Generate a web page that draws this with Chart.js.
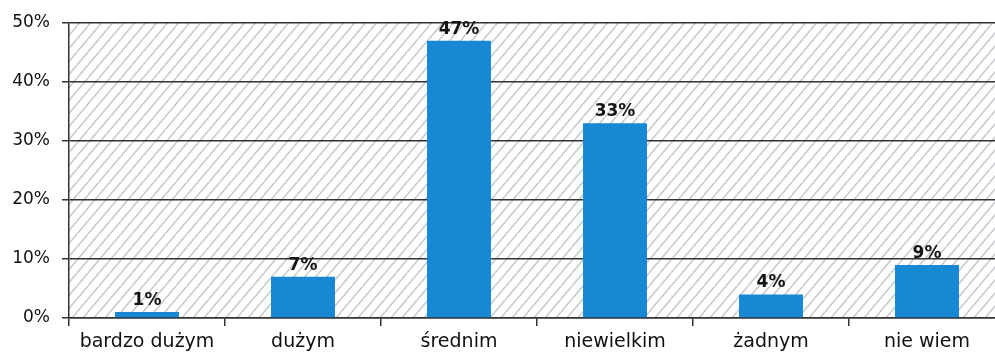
<!DOCTYPE html>
<html>
<head>
<meta charset="utf-8">
<script src="https://cdn.jsdelivr.net/npm/chart.js@4/dist/chart.umd.min.js"></script>
<style>
  html, body { margin: 0; padding: 0; background: #fff; overflow: hidden; }
  #wrap { width: 1005px; height: 360px; }
</style>
</head>
<body>
<div id="wrap"><canvas id="chart"></canvas></div>
<script>
// Data
const categories = ['bardzo dużym', 'dużym', 'średnim', 'niewielkim', 'żadnym', 'nie wiem'];
const values = [1, 7, 47, 33, 4, 9];
const yTicks = [0, 10, 20, 30, 40, 50];

const FONT = '"DejaVu Sans", Verdana, sans-serif';
const BAR_COLOR = '#1788d3';

// Diagonal hatch pattern for the plot background
function makeHatch() {
    const w = 11, h = 13;
    const c = document.createElement('canvas');
    c.width = w;
    c.height = h;
    const g = c.getContext('2d');
    g.strokeStyle = '#c6c9d0';
    g.lineWidth = 1.5;
    g.beginPath();
    g.moveTo(0, h); g.lineTo(w, 0);
    g.moveTo(-w, h); g.lineTo(0, 0);
    g.moveTo(w, h); g.lineTo(2 * w, 0);
    g.stroke();
    return g.createPattern(c, 'repeat');
}

const hatchBg = {
    id: 'hatchBg',
    beforeDraw(chart) {
        const { ctx, chartArea: a } = chart;
        ctx.save();
        ctx.fillStyle = makeHatch();
        ctx.fillRect(a.left, a.top, a.right - a.left, a.bottom - a.top);
        ctx.restore();
    }
};

// Value labels above the bars
const valueLabels = {
    id: 'valueLabels',
    afterDatasetsDraw(chart) {
        const { ctx } = chart;
        const meta = chart.getDatasetMeta(0);
        ctx.save();
        ctx.font = 'bold 17px ' + FONT;
        ctx.fillStyle = '#151515';
        ctx.textAlign = 'center';
        ctx.textBaseline = 'bottom';
        meta.data.forEach((bar, i) => {
            ctx.fillText(values[i] + '%', bar.x, bar.y - 3);
        });
        ctx.restore();
    }
};

new Chart(document.getElementById('chart'), {
    type: 'bar',
    data: {
        labels: categories,
        datasets: [{
            data: values,
            backgroundColor: BAR_COLOR,
            barPercentage: 0.41,
            categoryPercentage: 1
        }]
    },
    options: {
        responsive: true,
        maintainAspectRatio: false,
        animation: false,
        layout: { padding: { top: 23, right: 0, left: 0, bottom: 0 } },
        plugins: {
            legend: { display: false },
            tooltip: { enabled: false }
        },
        scales: {
            x: {
                afterFit(scale) { scale.height = 42; },
                grid: {
                    drawOnChartArea: false,
                    drawTicks: true,
                    tickLength: 8,
                    color: '#333',
                    lineWidth: 1.5
                },
                border: { display: true, color: '#333', width: 1.5 },
                ticks: {
                    font: { family: FONT, size: 19 },
                    color: '#111',
                    padding: 5,
                    maxRotation: 0,
                    autoSkip: false
                }
            },
            y: {
                min: 0,
                max: 50,
                afterFit(scale) { scale.width = 69; },
                afterBuildTicks(scale) {
                    scale.ticks = yTicks.map(v => ({ value: v }));
                },
                grid: {
                    color: '#333',
                    lineWidth: 1.5,
                    tickLength: 7
                },
                border: { display: true, color: '#333', width: 1.5 },
                ticks: {
                    font: { family: FONT, size: 17 },
                    color: '#111',
                    padding: 12,
                    callback: v => v + '%'
                }
            }
        }
    },
    plugins: [hatchBg, valueLabels]
});
</script>
</body>
</html>
